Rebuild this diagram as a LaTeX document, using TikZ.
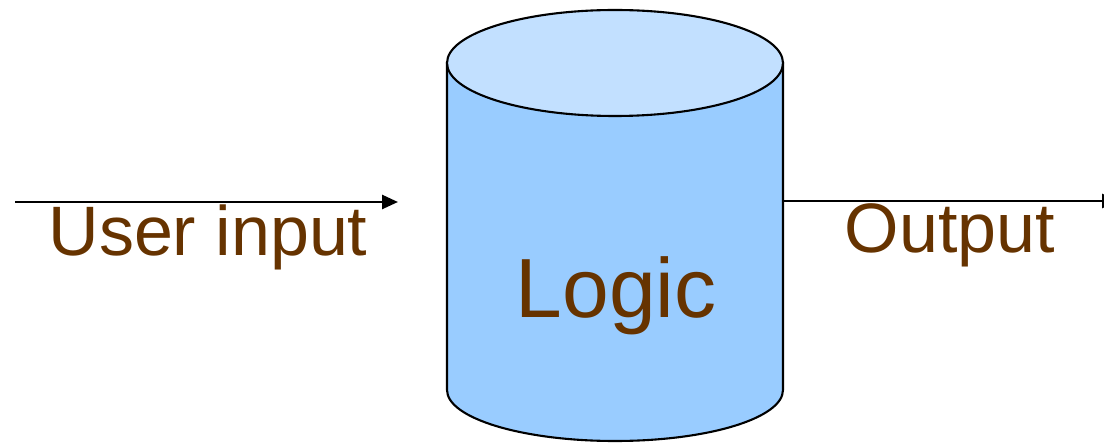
\documentclass[tikz,border=0pt]{standalone}
\usepackage{fontspec}
\setmainfont{Liberation Sans}
\usetikzlibrary{arrows.meta}
\definecolor{txtbrown}{HTML}{663300}
\definecolor{cylside}{HTML}{99CCFF}
\definecolor{cyltop}{HTML}{C2E0FF}
\begin{document}
\begin{tikzpicture}[x=1pt,y=-1pt,
  lbl/.style={anchor=base,inner sep=0pt,text=txtbrown},
  conn/.style={line width=2.6pt,-{Triangle[length=16pt,width=14pt]}},
  cylline/.style={draw=black,line width=2.1pt}]
\useasboundingbox (0,0) rectangle (1104,443);
% cylinder
\path[fill=cylside,cylline] (447,63) -- (447,390) arc[start angle=180,end angle=360,x radius=168,y radius=-51] -- (783,63) -- cycle;
\path[fill=cyltop,cylline] (615,63) ellipse[x radius=168,y radius=53];
\node[lbl,font=\fontsize{84}{84}\selectfont] (logic) at (616,318) {Logic};
% labels
\node[lbl,font=\fontsize{70}{70}\selectfont] (uin) at (208,256) {User input};
\node[lbl,font=\fontsize{70}{70}\selectfont] (out) at (950,253) {Output};
% connectors
\coordinate (a1) at (15,202);
\coordinate (a2) at (398,202);
\coordinate (b1) at (783,201);
\coordinate (b2) at (1118,201);
\draw[conn] (a1) -- (a2);
\draw[conn] (b1) -- (b2);
\end{tikzpicture}
\end{document}
